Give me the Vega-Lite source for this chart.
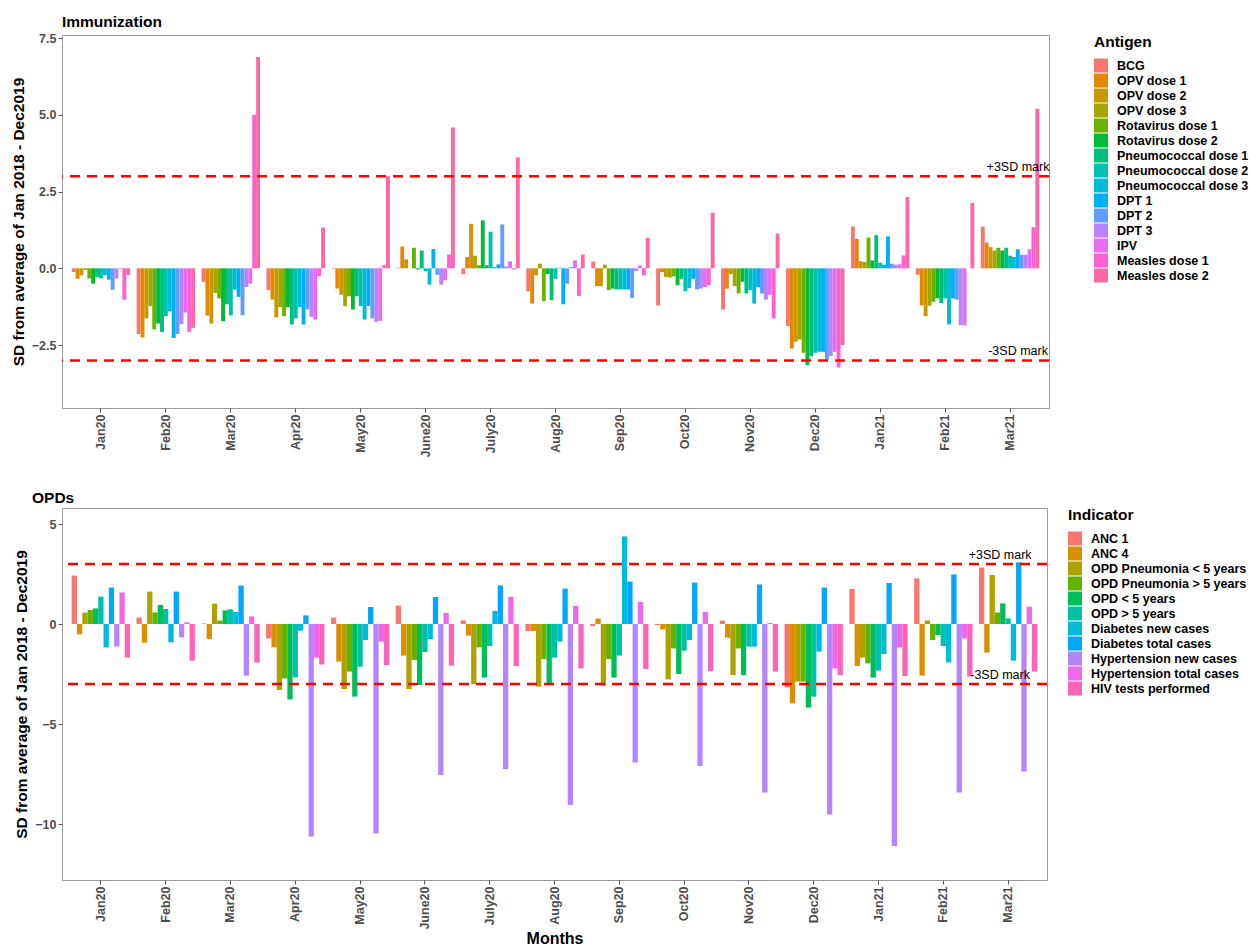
{
  "$schema": "https://vega.github.io/schema/vega-lite/v6.json",
  "description": "SD from average of Jan 2018 - Dec 2019 for immunization antigens and OPD indicators, Jan 2020 - Mar 2021",
  "padding": {"left": 10, "top": 14, "right": 0, "bottom": 0},
  "background": "white",
  "datasets": {
    "imm": [
      {"m": "Jan20", "k": "BCG", "v": -0.12}, {"m": "Jan20", "k": "OPV dose 1", "v": -0.34}, {"m": "Jan20", "k": "OPV dose 2", "v": -0.23}, {"m": "Jan20", "k": "OPV dose 3", "v": -0.05}, {"m": "Jan20", "k": "Rotavirus dose 1", "v": -0.33}, {"m": "Jan20", "k": "Rotavirus dose 2", "v": -0.5}, {"m": "Jan20", "k": "Pneumococcal dose 1", "v": -0.28}, {"m": "Jan20", "k": "Pneumococcal dose 2", "v": -0.33}, {"m": "Jan20", "k": "Pneumococcal dose 3", "v": -0.22}, {"m": "Jan20", "k": "DPT 1", "v": -0.37}, {"m": "Jan20", "k": "DPT 2", "v": -0.7}, {"m": "Jan20", "k": "DPT 3", "v": -0.33}, {"m": "Jan20", "k": "IPV", "v": -0.02}, {"m": "Jan20", "k": "Measles dose 1", "v": -1.02}, {"m": "Jan20", "k": "Measles dose 2", "v": -0.22},
      {"m": "Feb20", "k": "BCG", "v": -2.14}, {"m": "Feb20", "k": "OPV dose 1", "v": -2.25}, {"m": "Feb20", "k": "OPV dose 2", "v": -1.63}, {"m": "Feb20", "k": "OPV dose 3", "v": -1.23}, {"m": "Feb20", "k": "Rotavirus dose 1", "v": -1.99}, {"m": "Feb20", "k": "Rotavirus dose 2", "v": -1.8}, {"m": "Feb20", "k": "Pneumococcal dose 1", "v": -2.07}, {"m": "Feb20", "k": "Pneumococcal dose 2", "v": -1.56}, {"m": "Feb20", "k": "Pneumococcal dose 3", "v": -1.4}, {"m": "Feb20", "k": "DPT 1", "v": -2.27}, {"m": "Feb20", "k": "DPT 2", "v": -2.14}, {"m": "Feb20", "k": "DPT 3", "v": -1.82}, {"m": "Feb20", "k": "IPV", "v": -1.44}, {"m": "Feb20", "k": "Measles dose 1", "v": -2.07}, {"m": "Feb20", "k": "Measles dose 2", "v": -1.94},
      {"m": "Mar20", "k": "BCG", "v": -0.44}, {"m": "Mar20", "k": "OPV dose 1", "v": -1.54}, {"m": "Mar20", "k": "OPV dose 2", "v": -1.8}, {"m": "Mar20", "k": "OPV dose 3", "v": -0.8}, {"m": "Mar20", "k": "Rotavirus dose 1", "v": -0.98}, {"m": "Mar20", "k": "Rotavirus dose 2", "v": -1.72}, {"m": "Mar20", "k": "Pneumococcal dose 1", "v": -1.17}, {"m": "Mar20", "k": "Pneumococcal dose 2", "v": -1.53}, {"m": "Mar20", "k": "Pneumococcal dose 3", "v": -0.69}, {"m": "Mar20", "k": "DPT 1", "v": -0.93}, {"m": "Mar20", "k": "DPT 2", "v": -1.53}, {"m": "Mar20", "k": "DPT 3", "v": -0.61}, {"m": "Mar20", "k": "IPV", "v": -0.5}, {"m": "Mar20", "k": "Measles dose 1", "v": 5.0}, {"m": "Mar20", "k": "Measles dose 2", "v": 6.88},
      {"m": "Apr20", "k": "BCG", "v": -0.71}, {"m": "Apr20", "k": "OPV dose 1", "v": -1.02}, {"m": "Apr20", "k": "OPV dose 2", "v": -1.6}, {"m": "Apr20", "k": "OPV dose 3", "v": -1.26}, {"m": "Apr20", "k": "Rotavirus dose 1", "v": -1.56}, {"m": "Apr20", "k": "Rotavirus dose 2", "v": -1.26}, {"m": "Apr20", "k": "Pneumococcal dose 1", "v": -1.83}, {"m": "Apr20", "k": "Pneumococcal dose 2", "v": -1.63}, {"m": "Apr20", "k": "Pneumococcal dose 3", "v": -1.26}, {"m": "Apr20", "k": "DPT 1", "v": -1.83}, {"m": "Apr20", "k": "DPT 2", "v": -1.34}, {"m": "Apr20", "k": "DPT 3", "v": -1.58}, {"m": "Apr20", "k": "IPV", "v": -1.67}, {"m": "Apr20", "k": "Measles dose 1", "v": -0.26}, {"m": "Apr20", "k": "Measles dose 2", "v": 1.33},
      {"m": "May20", "k": "BCG", "v": -0.02}, {"m": "May20", "k": "OPV dose 1", "v": -0.66}, {"m": "May20", "k": "OPV dose 2", "v": -0.86}, {"m": "May20", "k": "OPV dose 3", "v": -1.23}, {"m": "May20", "k": "Rotavirus dose 1", "v": -0.91}, {"m": "May20", "k": "Rotavirus dose 2", "v": -1.34}, {"m": "May20", "k": "Pneumococcal dose 1", "v": -0.91}, {"m": "May20", "k": "Pneumococcal dose 2", "v": -1.23}, {"m": "May20", "k": "Pneumococcal dose 3", "v": -1.67}, {"m": "May20", "k": "DPT 1", "v": -1.23}, {"m": "May20", "k": "DPT 2", "v": -1.63}, {"m": "May20", "k": "DPT 3", "v": -1.74}, {"m": "May20", "k": "IPV", "v": -1.71}, {"m": "May20", "k": "Measles dose 1", "v": 0.1}, {"m": "May20", "k": "Measles dose 2", "v": 3.0},
      {"m": "June20", "k": "BCG", "v": 0.02}, {"m": "June20", "k": "OPV dose 1", "v": 0.71}, {"m": "June20", "k": "OPV dose 2", "v": 0.29}, {"m": "June20", "k": "OPV dose 3", "v": 0.0}, {"m": "June20", "k": "Rotavirus dose 1", "v": 0.67}, {"m": "June20", "k": "Rotavirus dose 2", "v": -0.04}, {"m": "June20", "k": "Pneumococcal dose 1", "v": 0.58}, {"m": "June20", "k": "Pneumococcal dose 2", "v": -0.09}, {"m": "June20", "k": "Pneumococcal dose 3", "v": -0.53}, {"m": "June20", "k": "DPT 1", "v": 0.63}, {"m": "June20", "k": "DPT 2", "v": -0.21}, {"m": "June20", "k": "DPT 3", "v": -0.53}, {"m": "June20", "k": "IPV", "v": -0.39}, {"m": "June20", "k": "Measles dose 1", "v": 0.45}, {"m": "June20", "k": "Measles dose 2", "v": 4.59},
      {"m": "July20", "k": "BCG", "v": -0.19}, {"m": "July20", "k": "OPV dose 1", "v": 0.37}, {"m": "July20", "k": "OPV dose 2", "v": 1.45}, {"m": "July20", "k": "OPV dose 3", "v": 0.41}, {"m": "July20", "k": "Rotavirus dose 1", "v": 0.1}, {"m": "July20", "k": "Rotavirus dose 2", "v": 1.56}, {"m": "July20", "k": "Pneumococcal dose 1", "v": 0.1}, {"m": "July20", "k": "Pneumococcal dose 2", "v": 1.19}, {"m": "July20", "k": "Pneumococcal dose 3", "v": 0.04}, {"m": "July20", "k": "DPT 1", "v": 0.13}, {"m": "July20", "k": "DPT 2", "v": 1.43}, {"m": "July20", "k": "DPT 3", "v": 0.06}, {"m": "July20", "k": "IPV", "v": 0.23}, {"m": "July20", "k": "Measles dose 1", "v": -0.04}, {"m": "July20", "k": "Measles dose 2", "v": 3.61},
      {"m": "Aug20", "k": "BCG", "v": -0.75}, {"m": "Aug20", "k": "OPV dose 1", "v": -1.15}, {"m": "Aug20", "k": "OPV dose 2", "v": -0.23}, {"m": "Aug20", "k": "OPV dose 3", "v": 0.15}, {"m": "Aug20", "k": "Rotavirus dose 1", "v": -1.07}, {"m": "Aug20", "k": "Rotavirus dose 2", "v": -0.19}, {"m": "Aug20", "k": "Pneumococcal dose 1", "v": -1.04}, {"m": "Aug20", "k": "Pneumococcal dose 2", "v": -0.34}, {"m": "Aug20", "k": "Pneumococcal dose 3", "v": 0.02}, {"m": "Aug20", "k": "DPT 1", "v": -1.17}, {"m": "Aug20", "k": "DPT 2", "v": -0.5}, {"m": "Aug20", "k": "DPT 3", "v": 0.04}, {"m": "Aug20", "k": "IPV", "v": 0.26}, {"m": "Aug20", "k": "Measles dose 1", "v": -0.9}, {"m": "Aug20", "k": "Measles dose 2", "v": 0.45},
      {"m": "Sep20", "k": "BCG", "v": 0.22}, {"m": "Sep20", "k": "OPV dose 1", "v": -0.58}, {"m": "Sep20", "k": "OPV dose 2", "v": -0.58}, {"m": "Sep20", "k": "OPV dose 3", "v": 0.12}, {"m": "Sep20", "k": "Rotavirus dose 1", "v": -0.71}, {"m": "Sep20", "k": "Rotavirus dose 2", "v": -0.66}, {"m": "Sep20", "k": "Pneumococcal dose 1", "v": -0.69}, {"m": "Sep20", "k": "Pneumococcal dose 2", "v": -0.69}, {"m": "Sep20", "k": "Pneumococcal dose 3", "v": -0.69}, {"m": "Sep20", "k": "DPT 1", "v": -0.69}, {"m": "Sep20", "k": "DPT 2", "v": -0.96}, {"m": "Sep20", "k": "DPT 3", "v": -0.09}, {"m": "Sep20", "k": "IPV", "v": 0.09}, {"m": "Sep20", "k": "Measles dose 1", "v": -0.23}, {"m": "Sep20", "k": "Measles dose 2", "v": 1.0},
      {"m": "Oct20", "k": "BCG", "v": -1.21}, {"m": "Oct20", "k": "OPV dose 1", "v": -0.12}, {"m": "Oct20", "k": "OPV dose 2", "v": -0.28}, {"m": "Oct20", "k": "OPV dose 3", "v": -0.3}, {"m": "Oct20", "k": "Rotavirus dose 1", "v": -0.26}, {"m": "Oct20", "k": "Rotavirus dose 2", "v": -0.55}, {"m": "Oct20", "k": "Pneumococcal dose 1", "v": -0.34}, {"m": "Oct20", "k": "Pneumococcal dose 2", "v": -0.75}, {"m": "Oct20", "k": "Pneumococcal dose 3", "v": -0.64}, {"m": "Oct20", "k": "DPT 1", "v": -0.34}, {"m": "Oct20", "k": "DPT 2", "v": -0.69}, {"m": "Oct20", "k": "DPT 3", "v": -0.66}, {"m": "Oct20", "k": "IPV", "v": -0.61}, {"m": "Oct20", "k": "Measles dose 1", "v": -0.55}, {"m": "Oct20", "k": "Measles dose 2", "v": 1.81},
      {"m": "Nov20", "k": "BCG", "v": -1.34}, {"m": "Nov20", "k": "OPV dose 1", "v": -0.66}, {"m": "Nov20", "k": "OPV dose 2", "v": -0.19}, {"m": "Nov20", "k": "OPV dose 3", "v": -0.58}, {"m": "Nov20", "k": "Rotavirus dose 1", "v": -0.82}, {"m": "Nov20", "k": "Rotavirus dose 2", "v": -0.44}, {"m": "Nov20", "k": "Pneumococcal dose 1", "v": -0.82}, {"m": "Nov20", "k": "Pneumococcal dose 2", "v": -0.71}, {"m": "Nov20", "k": "Pneumococcal dose 3", "v": -1.15}, {"m": "Nov20", "k": "DPT 1", "v": -0.61}, {"m": "Nov20", "k": "DPT 2", "v": -0.82}, {"m": "Nov20", "k": "DPT 3", "v": -1.02}, {"m": "Nov20", "k": "IPV", "v": -0.86}, {"m": "Nov20", "k": "Measles dose 1", "v": -1.63}, {"m": "Nov20", "k": "Measles dose 2", "v": 1.13},
      {"m": "Dec20", "k": "BCG", "v": -1.88}, {"m": "Dec20", "k": "OPV dose 1", "v": -2.61}, {"m": "Dec20", "k": "OPV dose 2", "v": -2.39}, {"m": "Dec20", "k": "OPV dose 3", "v": -2.32}, {"m": "Dec20", "k": "Rotavirus dose 1", "v": -2.75}, {"m": "Dec20", "k": "Rotavirus dose 2", "v": -3.15}, {"m": "Dec20", "k": "Pneumococcal dose 1", "v": -2.86}, {"m": "Dec20", "k": "Pneumococcal dose 2", "v": -2.75}, {"m": "Dec20", "k": "Pneumococcal dose 3", "v": -2.72}, {"m": "Dec20", "k": "DPT 1", "v": -2.72}, {"m": "Dec20", "k": "DPT 2", "v": -2.97}, {"m": "Dec20", "k": "DPT 3", "v": -2.86}, {"m": "Dec20", "k": "IPV", "v": -2.72}, {"m": "Dec20", "k": "Measles dose 1", "v": -3.23}, {"m": "Dec20", "k": "Measles dose 2", "v": -2.5},
      {"m": "Jan21", "k": "BCG", "v": 1.36}, {"m": "Jan21", "k": "OPV dose 1", "v": 0.96}, {"m": "Jan21", "k": "OPV dose 2", "v": 0.23}, {"m": "Jan21", "k": "OPV dose 3", "v": 0.21}, {"m": "Jan21", "k": "Rotavirus dose 1", "v": 1.0}, {"m": "Jan21", "k": "Rotavirus dose 2", "v": 0.26}, {"m": "Jan21", "k": "Pneumococcal dose 1", "v": 1.08}, {"m": "Jan21", "k": "Pneumococcal dose 2", "v": 0.18}, {"m": "Jan21", "k": "Pneumococcal dose 3", "v": 0.12}, {"m": "Jan21", "k": "DPT 1", "v": 1.04}, {"m": "Jan21", "k": "DPT 2", "v": 0.15}, {"m": "Jan21", "k": "DPT 3", "v": 0.12}, {"m": "Jan21", "k": "IPV", "v": 0.13}, {"m": "Jan21", "k": "Measles dose 1", "v": 0.42}, {"m": "Jan21", "k": "Measles dose 2", "v": 2.32},
      {"m": "Feb21", "k": "BCG", "v": -0.21}, {"m": "Feb21", "k": "OPV dose 1", "v": -1.21}, {"m": "Feb21", "k": "OPV dose 2", "v": -1.56}, {"m": "Feb21", "k": "OPV dose 3", "v": -1.22}, {"m": "Feb21", "k": "Rotavirus dose 1", "v": -1.09}, {"m": "Feb21", "k": "Rotavirus dose 2", "v": -0.98}, {"m": "Feb21", "k": "Pneumococcal dose 1", "v": -1.13}, {"m": "Feb21", "k": "Pneumococcal dose 2", "v": -0.98}, {"m": "Feb21", "k": "Pneumococcal dose 3", "v": -1.83}, {"m": "Feb21", "k": "DPT 1", "v": -0.98}, {"m": "Feb21", "k": "DPT 2", "v": -1.02}, {"m": "Feb21", "k": "DPT 3", "v": -1.85}, {"m": "Feb21", "k": "IPV", "v": -1.86}, {"m": "Feb21", "k": "Measles dose 1", "v": 0.0}, {"m": "Feb21", "k": "Measles dose 2", "v": 2.13},
      {"m": "Mar21", "k": "BCG", "v": 1.36}, {"m": "Mar21", "k": "OPV dose 1", "v": 0.84}, {"m": "Mar21", "k": "OPV dose 2", "v": 0.69}, {"m": "Mar21", "k": "OPV dose 3", "v": 0.58}, {"m": "Mar21", "k": "Rotavirus dose 1", "v": 0.67}, {"m": "Mar21", "k": "Rotavirus dose 2", "v": 0.58}, {"m": "Mar21", "k": "Pneumococcal dose 1", "v": 0.67}, {"m": "Mar21", "k": "Pneumococcal dose 2", "v": 0.41}, {"m": "Mar21", "k": "Pneumococcal dose 3", "v": 0.37}, {"m": "Mar21", "k": "DPT 1", "v": 0.62}, {"m": "Mar21", "k": "DPT 2", "v": 0.44}, {"m": "Mar21", "k": "DPT 3", "v": 0.44}, {"m": "Mar21", "k": "IPV", "v": 0.62}, {"m": "Mar21", "k": "Measles dose 1", "v": 1.34}, {"m": "Mar21", "k": "Measles dose 2", "v": 5.2}
    ],
    "opd": [
      {"m": "Jan20", "k": "ANC 1", "v": 2.42}, {"m": "Jan20", "k": "ANC 4", "v": -0.52}, {"m": "Jan20", "k": "OPD Pneumonia < 5 years", "v": 0.57}, {"m": "Jan20", "k": "OPD Pneumonia > 5 years", "v": 0.7}, {"m": "Jan20", "k": "OPD < 5 years", "v": 0.78}, {"m": "Jan20", "k": "OPD > 5 years", "v": 1.37}, {"m": "Jan20", "k": "Diabetes new cases", "v": -1.17}, {"m": "Jan20", "k": "Diabetes total cases", "v": 1.82}, {"m": "Jan20", "k": "Hypertension new cases", "v": -1.13}, {"m": "Jan20", "k": "Hypertension total cases", "v": 1.58}, {"m": "Jan20", "k": "HIV tests performed", "v": -1.68},
      {"m": "Feb20", "k": "ANC 1", "v": 0.32}, {"m": "Feb20", "k": "ANC 4", "v": -0.93}, {"m": "Feb20", "k": "OPD Pneumonia < 5 years", "v": 1.62}, {"m": "Feb20", "k": "OPD Pneumonia > 5 years", "v": 0.58}, {"m": "Feb20", "k": "OPD < 5 years", "v": 0.95}, {"m": "Feb20", "k": "OPD > 5 years", "v": 0.75}, {"m": "Feb20", "k": "Diabetes new cases", "v": -0.92}, {"m": "Feb20", "k": "Diabetes total cases", "v": 1.62}, {"m": "Feb20", "k": "Hypertension new cases", "v": -0.67}, {"m": "Feb20", "k": "Hypertension total cases", "v": 0.08}, {"m": "Feb20", "k": "HIV tests performed", "v": -1.83},
      {"m": "Mar20", "k": "ANC 1", "v": 0.03}, {"m": "Mar20", "k": "ANC 4", "v": -0.75}, {"m": "Mar20", "k": "OPD Pneumonia < 5 years", "v": 1.02}, {"m": "Mar20", "k": "OPD Pneumonia > 5 years", "v": 0.17}, {"m": "Mar20", "k": "OPD < 5 years", "v": 0.68}, {"m": "Mar20", "k": "OPD > 5 years", "v": 0.73}, {"m": "Mar20", "k": "Diabetes new cases", "v": 0.6}, {"m": "Mar20", "k": "Diabetes total cases", "v": 1.92}, {"m": "Mar20", "k": "Hypertension new cases", "v": -2.58}, {"m": "Mar20", "k": "Hypertension total cases", "v": 0.38}, {"m": "Mar20", "k": "HIV tests performed", "v": -1.93},
      {"m": "Apr20", "k": "ANC 1", "v": -0.72}, {"m": "Apr20", "k": "ANC 4", "v": -1.17}, {"m": "Apr20", "k": "OPD Pneumonia < 5 years", "v": -3.3}, {"m": "Apr20", "k": "OPD Pneumonia > 5 years", "v": -2.72}, {"m": "Apr20", "k": "OPD < 5 years", "v": -3.77}, {"m": "Apr20", "k": "OPD > 5 years", "v": -2.67}, {"m": "Apr20", "k": "Diabetes new cases", "v": -0.33}, {"m": "Apr20", "k": "Diabetes total cases", "v": 0.43}, {"m": "Apr20", "k": "Hypertension new cases", "v": -10.63}, {"m": "Apr20", "k": "Hypertension total cases", "v": -1.68}, {"m": "Apr20", "k": "HIV tests performed", "v": -2.02},
      {"m": "May20", "k": "ANC 1", "v": 0.32}, {"m": "May20", "k": "ANC 4", "v": -1.88}, {"m": "May20", "k": "OPD Pneumonia < 5 years", "v": -3.25}, {"m": "May20", "k": "OPD Pneumonia > 5 years", "v": -2.38}, {"m": "May20", "k": "OPD < 5 years", "v": -3.63}, {"m": "May20", "k": "OPD > 5 years", "v": -2.13}, {"m": "May20", "k": "Diabetes new cases", "v": -0.8}, {"m": "May20", "k": "Diabetes total cases", "v": 0.85}, {"m": "May20", "k": "Hypertension new cases", "v": -10.47}, {"m": "May20", "k": "Hypertension total cases", "v": -0.88}, {"m": "May20", "k": "HIV tests performed", "v": -2.05},
      {"m": "June20", "k": "ANC 1", "v": 0.92}, {"m": "June20", "k": "ANC 4", "v": -1.58}, {"m": "June20", "k": "OPD Pneumonia < 5 years", "v": -3.25}, {"m": "June20", "k": "OPD Pneumonia > 5 years", "v": -1.8}, {"m": "June20", "k": "OPD < 5 years", "v": -3.05}, {"m": "June20", "k": "OPD > 5 years", "v": -1.4}, {"m": "June20", "k": "Diabetes new cases", "v": -0.75}, {"m": "June20", "k": "Diabetes total cases", "v": 1.35}, {"m": "June20", "k": "Hypertension new cases", "v": -7.55}, {"m": "June20", "k": "Hypertension total cases", "v": 0.55}, {"m": "June20", "k": "HIV tests performed", "v": -2.08},
      {"m": "July20", "k": "ANC 1", "v": 0.18}, {"m": "July20", "k": "ANC 4", "v": -0.58}, {"m": "July20", "k": "OPD Pneumonia < 5 years", "v": -3.0}, {"m": "July20", "k": "OPD Pneumonia > 5 years", "v": -1.17}, {"m": "July20", "k": "OPD < 5 years", "v": -2.68}, {"m": "July20", "k": "OPD > 5 years", "v": -1.1}, {"m": "July20", "k": "Diabetes new cases", "v": 0.65}, {"m": "July20", "k": "Diabetes total cases", "v": 1.93}, {"m": "July20", "k": "Hypertension new cases", "v": -7.25}, {"m": "July20", "k": "Hypertension total cases", "v": 1.35}, {"m": "July20", "k": "HIV tests performed", "v": -2.1},
      {"m": "Aug20", "k": "ANC 1", "v": -0.35}, {"m": "Aug20", "k": "ANC 4", "v": -0.35}, {"m": "Aug20", "k": "OPD Pneumonia < 5 years", "v": -3.13}, {"m": "Aug20", "k": "OPD Pneumonia > 5 years", "v": -1.75}, {"m": "Aug20", "k": "OPD < 5 years", "v": -3.02}, {"m": "Aug20", "k": "OPD > 5 years", "v": -1.68}, {"m": "Aug20", "k": "Diabetes new cases", "v": -0.88}, {"m": "Aug20", "k": "Diabetes total cases", "v": 1.77}, {"m": "Aug20", "k": "Hypertension new cases", "v": -9.05}, {"m": "Aug20", "k": "Hypertension total cases", "v": 0.9}, {"m": "Aug20", "k": "HIV tests performed", "v": -2.22},
      {"m": "Sep20", "k": "ANC 1", "v": -0.1}, {"m": "Sep20", "k": "ANC 4", "v": 0.27}, {"m": "Sep20", "k": "OPD Pneumonia < 5 years", "v": -3.08}, {"m": "Sep20", "k": "OPD Pneumonia > 5 years", "v": -1.75}, {"m": "Sep20", "k": "OPD < 5 years", "v": -2.68}, {"m": "Sep20", "k": "OPD > 5 years", "v": -1.58}, {"m": "Sep20", "k": "Diabetes new cases", "v": 4.38}, {"m": "Sep20", "k": "Diabetes total cases", "v": 2.12}, {"m": "Sep20", "k": "Hypertension new cases", "v": -6.92}, {"m": "Sep20", "k": "Hypertension total cases", "v": 1.1}, {"m": "Sep20", "k": "HIV tests performed", "v": -2.25},
      {"m": "Oct20", "k": "ANC 1", "v": -0.05}, {"m": "Oct20", "k": "ANC 4", "v": -0.27}, {"m": "Oct20", "k": "OPD Pneumonia < 5 years", "v": -2.77}, {"m": "Oct20", "k": "OPD Pneumonia > 5 years", "v": -1.22}, {"m": "Oct20", "k": "OPD < 5 years", "v": -2.5}, {"m": "Oct20", "k": "OPD > 5 years", "v": -1.33}, {"m": "Oct20", "k": "Diabetes new cases", "v": -0.8}, {"m": "Oct20", "k": "Diabetes total cases", "v": 2.07}, {"m": "Oct20", "k": "Hypertension new cases", "v": -7.1}, {"m": "Oct20", "k": "Hypertension total cases", "v": 0.6}, {"m": "Oct20", "k": "HIV tests performed", "v": -2.35},
      {"m": "Nov20", "k": "ANC 1", "v": 0.17}, {"m": "Nov20", "k": "ANC 4", "v": -0.68}, {"m": "Nov20", "k": "OPD Pneumonia < 5 years", "v": -2.55}, {"m": "Nov20", "k": "OPD Pneumonia > 5 years", "v": -1.22}, {"m": "Nov20", "k": "OPD < 5 years", "v": -2.55}, {"m": "Nov20", "k": "OPD > 5 years", "v": -1.13}, {"m": "Nov20", "k": "Diabetes new cases", "v": -1.13}, {"m": "Nov20", "k": "Diabetes total cases", "v": 1.98}, {"m": "Nov20", "k": "Hypertension new cases", "v": -8.42}, {"m": "Nov20", "k": "Hypertension total cases", "v": 0.05}, {"m": "Nov20", "k": "HIV tests performed", "v": -2.38},
      {"m": "Dec20", "k": "ANC 1", "v": -3.17}, {"m": "Dec20", "k": "ANC 4", "v": -3.97}, {"m": "Dec20", "k": "OPD Pneumonia < 5 years", "v": -2.88}, {"m": "Dec20", "k": "OPD Pneumonia > 5 years", "v": -2.88}, {"m": "Dec20", "k": "OPD < 5 years", "v": -4.18}, {"m": "Dec20", "k": "OPD > 5 years", "v": -3.63}, {"m": "Dec20", "k": "Diabetes new cases", "v": -1.38}, {"m": "Dec20", "k": "Diabetes total cases", "v": 1.82}, {"m": "Dec20", "k": "Hypertension new cases", "v": -9.52}, {"m": "Dec20", "k": "Hypertension total cases", "v": -2.22}, {"m": "Dec20", "k": "HIV tests performed", "v": -2.55},
      {"m": "Jan21", "k": "ANC 1", "v": 1.75}, {"m": "Jan21", "k": "ANC 4", "v": -2.1}, {"m": "Jan21", "k": "OPD Pneumonia < 5 years", "v": -1.68}, {"m": "Jan21", "k": "OPD Pneumonia > 5 years", "v": -1.97}, {"m": "Jan21", "k": "OPD < 5 years", "v": -2.68}, {"m": "Jan21", "k": "OPD > 5 years", "v": -2.33}, {"m": "Jan21", "k": "Diabetes new cases", "v": -1.5}, {"m": "Jan21", "k": "Diabetes total cases", "v": 2.05}, {"m": "Jan21", "k": "Hypertension new cases", "v": -11.1}, {"m": "Jan21", "k": "Hypertension total cases", "v": -1.18}, {"m": "Jan21", "k": "HIV tests performed", "v": -2.6},
      {"m": "Feb21", "k": "ANC 1", "v": 2.28}, {"m": "Feb21", "k": "ANC 4", "v": -2.58}, {"m": "Feb21", "k": "OPD Pneumonia < 5 years", "v": 0.18}, {"m": "Feb21", "k": "OPD Pneumonia > 5 years", "v": -0.8}, {"m": "Feb21", "k": "OPD < 5 years", "v": -0.55}, {"m": "Feb21", "k": "OPD > 5 years", "v": -1.1}, {"m": "Feb21", "k": "Diabetes new cases", "v": -1.92}, {"m": "Feb21", "k": "Diabetes total cases", "v": 2.48}, {"m": "Feb21", "k": "Hypertension new cases", "v": -8.42}, {"m": "Feb21", "k": "Hypertension total cases", "v": -0.72}, {"m": "Feb21", "k": "HIV tests performed", "v": -2.63},
      {"m": "Mar21", "k": "ANC 1", "v": 2.83}, {"m": "Mar21", "k": "ANC 4", "v": -1.43}, {"m": "Mar21", "k": "OPD Pneumonia < 5 years", "v": 2.45}, {"m": "Mar21", "k": "OPD Pneumonia > 5 years", "v": 0.58}, {"m": "Mar21", "k": "OPD < 5 years", "v": 1.03}, {"m": "Mar21", "k": "OPD > 5 years", "v": 0.28}, {"m": "Mar21", "k": "Diabetes new cases", "v": -1.83}, {"m": "Mar21", "k": "Diabetes total cases", "v": 3.08}, {"m": "Mar21", "k": "Hypertension new cases", "v": -7.38}, {"m": "Mar21", "k": "Hypertension total cases", "v": 0.87}, {"m": "Mar21", "k": "HIV tests performed", "v": -2.38}
    ],
    "marks": [
      {"m": "Mar21", "y": 3, "t": "+3SD mark"},
      {"m": "Mar21", "y": -3, "t": "-3SD mark"}
    ]
  },
  "vconcat": [
    {
      "title": {"text": "Immunization", "anchor": "start", "frame": "group"},
      "width": 987,
      "height": 373,
      "layer": [
        {
          "data": {"name": "imm"},
          "mark": {"type": "bar"},
          "encoding": {
            "x": {
              "field": "m", "type": "nominal", "title": null,
              "scale": {"domain": ["Jan20", "Feb20", "Mar20", "Apr20", "May20", "June20", "July20", "Aug20", "Sep20", "Oct20", "Nov20", "Dec20", "Jan21", "Feb21", "Mar21"], "paddingInner": 0.1, "paddingOuter": 0.15}
            },
            "xOffset": {
              "field": "k", "type": "nominal",
              "scale": {"domain": ["BCG", "OPV dose 1", "OPV dose 2", "OPV dose 3", "Rotavirus dose 1", "Rotavirus dose 2", "Pneumococcal dose 1", "Pneumococcal dose 2", "Pneumococcal dose 3", "DPT 1", "DPT 2", "DPT 3", "IPV", "Measles dose 1", "Measles dose 2"], "paddingInner": 0, "paddingOuter": 0}
            },
            "y": {
              "field": "v", "type": "quantitative",
              "title": "SD from average of Jan 2018 - Dec2019",
              "scale": {"domain": [-4.55, 7.6], "nice": false, "zero": false},
              "axis": {"values": [-2.5, 0, 2.5, 5, 7.5], "format": ".1f"}
            },
            "color": {
              "field": "k", "type": "nominal", "title": "Antigen",
              "scale": {
                "domain": ["BCG", "OPV dose 1", "OPV dose 2", "OPV dose 3", "Rotavirus dose 1", "Rotavirus dose 2", "Pneumococcal dose 1", "Pneumococcal dose 2", "Pneumococcal dose 3", "DPT 1", "DPT 2", "DPT 3", "IPV", "Measles dose 1", "Measles dose 2"],
                "range": ["#F8766D", "#E58700", "#C99800", "#A3A500", "#6BB100", "#00BA38", "#00BF7D", "#00C0AF", "#00BCD8", "#00B0F6", "#619CFF", "#B983FF", "#E76BF3", "#FD61D1", "#FF67A4"]
              },
              "legend": {"offset": 45}
            }
          }
        },
        {
          "data": {"values": [{"y": 3}, {"y": -3}]},
          "mark": {"type": "rule", "color": "#FF0000", "strokeWidth": 2.5, "strokeDash": [10, 7]},
          "encoding": {"y": {"field": "y", "type": "quantitative"}}
        },
        {
          "data": {"name": "marks"},
          "mark": {"type": "text", "align": "center", "baseline": "bottom", "dx": 8, "dy": -2, "fontSize": 12.5, "color": "black"},
          "encoding": {
            "x": {"field": "m", "type": "nominal"},
            "y": {"field": "y", "type": "quantitative"},
            "text": {"field": "t"}
          }
        }
      ]
    },
    {
      "title": {"text": "OPDs", "anchor": "start", "frame": "group", "dx": -30},
      "width": 985,
      "height": 372,
      "layer": [
        {
          "data": {"name": "opd"},
          "mark": {"type": "bar"},
          "encoding": {
            "x": {
              "field": "m", "type": "nominal", "title": "Months",
              "scale": {"domain": ["Jan20", "Feb20", "Mar20", "Apr20", "May20", "June20", "July20", "Aug20", "Sep20", "Oct20", "Nov20", "Dec20", "Jan21", "Feb21", "Mar21"], "paddingInner": 0.1, "paddingOuter": 0.15}
            },
            "xOffset": {
              "field": "k", "type": "nominal",
              "scale": {"domain": ["ANC 1", "ANC 4", "OPD Pneumonia < 5 years", "OPD Pneumonia > 5 years", "OPD < 5 years", "OPD > 5 years", "Diabetes new cases", "Diabetes total cases", "Hypertension new cases", "Hypertension total cases", "HIV tests performed"], "paddingInner": 0, "paddingOuter": 0}
            },
            "y": {
              "field": "v", "type": "quantitative",
              "title": "SD from average of Jan 2018 - Dec2019",
              "scale": {"domain": [-12.8, 5.8], "nice": false, "zero": false},
              "axis": {"values": [-10, -5, 0, 5], "format": "d"}
            },
            "color": {
              "field": "k", "type": "nominal", "title": "Indicator",
              "scale": {
                "domain": ["ANC 1", "ANC 4", "OPD Pneumonia < 5 years", "OPD Pneumonia > 5 years", "OPD < 5 years", "OPD > 5 years", "Diabetes new cases", "Diabetes total cases", "Hypertension new cases", "Hypertension total cases", "HIV tests performed"],
                "range": ["#F8766D", "#DB8E00", "#AEA200", "#64B200", "#00BD5C", "#00C1A7", "#00BADE", "#00A6FF", "#B385FF", "#EF67EB", "#FF63B6"]
              },
              "legend": {"offset": 21}
            }
          }
        },
        {
          "data": {"values": [{"y": 3}, {"y": -3}]},
          "mark": {"type": "rule", "color": "#FF0000", "strokeWidth": 2.5, "strokeDash": [10, 7]},
          "encoding": {"y": {"field": "y", "type": "quantitative"}}
        },
        {
          "data": {"name": "marks"},
          "mark": {"type": "text", "align": "center", "baseline": "bottom", "dx": -8, "dy": -2, "fontSize": 12.5, "color": "black"},
          "encoding": {
            "x": {"field": "m", "type": "nominal"},
            "y": {"field": "y", "type": "quantitative"},
            "text": {"field": "t"}
          }
        }
      ]
    }
  ],
  "spacing": 32,
  "resolve": {"scale": {"color": "independent", "x": "independent", "y": "independent", "xOffset": "independent"}, "legend": {"color": "independent"}},
  "config": {
    "font": "Liberation Sans",
    "view": {"stroke": "#9A9A9A", "strokeWidth": 1},
    "axis": {
      "grid": false,
      "domain": false,
      "tickColor": "#555555",
      "tickSize": 4,
      "labelPadding": 2,
      "labelFontSize": 12.5,
      "labelFontWeight": "bold",
      "labelColor": "#4D4D4D",
      "titleFontSize": 15.5,
      "titleFontWeight": "bold",
      "titleColor": "black",
      "titlePadding": 5
    },
    "axisX": {"labelAngle": 270, "titlePadding": 1, "titleFontSize": 16},
    "legend": {
      "orient": "right",
      "titleFontSize": 15.5,
      "titleFontWeight": "bold",
      "titleColor": "black",
      "titlePadding": 8,
      "labelFontSize": 12.5,
      "labelFontWeight": "bold",
      "labelColor": "black",
      "labelOffset": 9,
      "symbolType": "square",
      "symbolSize": 196,
      "symbolStrokeWidth": 0,
      "symbolOpacity": 1,
      "rowPadding": 1,
      "labelLimit": 300
    },
    "title": {"fontSize": 15.5, "fontWeight": "bold", "color": "black", "offset": 2},
    "bar": {"stroke": null}
  }
}
